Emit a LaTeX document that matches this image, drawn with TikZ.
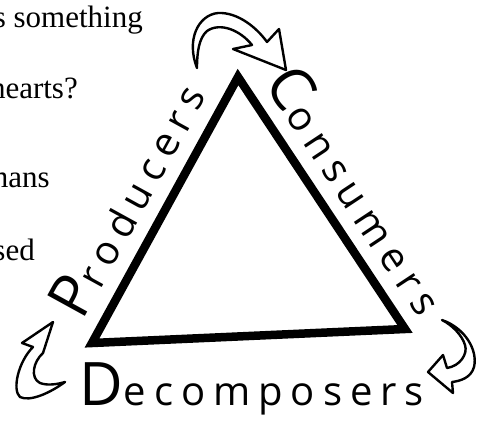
\documentclass[tikz,border=0pt]{standalone}
\usepackage{fontspec}
\setmainfont{Liberation Serif}
\newfontfamily\handfont[LetterSpace=20]{Open Sans}
\usepackage{tikz}
\usetikzlibrary{positioning}
\definecolor{ink}{HTML}{000000}
\newcommand{\capletter}[1]{{\fontsize{60}{60}\selectfont #1}}

\begin{document}
\begin{tikzpicture}[
  x=1pt,y=-1pt,
  line cap=butt,line join=miter,
  pagetext/.style={font=\fontsize{31}{31}\selectfont,text=ink,anchor=base east,inner sep=0pt},
  hand/.style={font=\handfont\fontsize{40}{40}\selectfont,text=ink,anchor=base,inner sep=0pt},
  edge/.style={draw=ink,line width=8.5pt},
  cyclearrow/.style={draw=ink,fill=white,line width=2.4pt,line join=round}
]
\useasboundingbox (0,0) rectangle (489,432);

% cut-off page text
\node[pagetext] (line1) at (143,27) {s something};
\node[pagetext] (line2) at (78,98) {hearts?};
\node[pagetext] (line3) at (50,187) {mans};
\node[pagetext] (line4) at (35,260) {sed};

% triangle
\coordinate (apex) at (238,77);
\coordinate (bl) at (92,343);
\coordinate (br) at (405,329);
\draw[edge] (apex) -- (br) -- (bl) -- cycle;

% labels
\node[hand,rotate=61.2] (prod) at (145,209) {\capletter{P}roducers};
\node[hand,rotate=-56.5] (cons) at (341,201) {\capletter{C}onsumers};
\node[hand] (decomp) at (252,405) {\capletter{D}ecomposers};

% curved arrows
\draw[cyclearrow] (197,68) .. controls (186,40) and (198,15) .. (218,13)
  .. controls (238,12) and (257,28) .. (267,42) -- (279,29) -- (286,70)
  -- (233,49) -- (252,45) .. controls (240,30) and (220,22) .. (207,31)
  .. controls (199,38) and (197,52) .. cycle;
\draw[cyclearrow] (442,320) .. controls (465,328) and (478,350) .. (474,367)
  .. controls (471,378) and (460,381) .. (452,382) -- (453,393) -- (428,372)
  -- (443,355) -- (447,368) .. controls (460,366) and (468,354) .. (465,345)
  .. controls (462,335) and (452,325) .. cycle;
\draw[cyclearrow] (65,382) .. controls (50,393) and (30,402) .. (20,397)
  .. controls (12,390) and (18,362) .. (33,347) -- (22,343) -- (53,322)
  -- (43,353) .. controls (33,362) and (30,378) .. (40,383)
  .. controls (48,386) and (58,384) .. cycle;
\end{tikzpicture}
\end{document}
